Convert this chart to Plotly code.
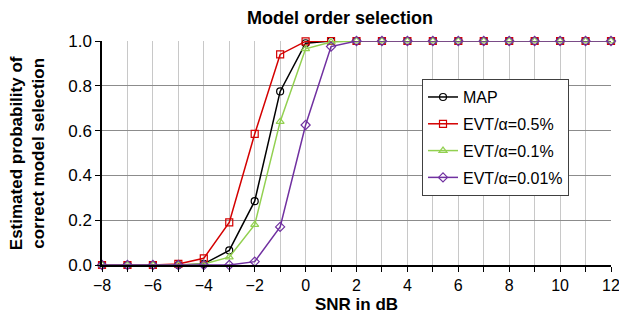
import plotly.graph_objects as go

snr = [-8, -7, -6, -5, -4, -3, -2, -1, 0, 1, 2, 3, 4, 5, 6, 7, 8, 9, 10, 11, 12]
p_map = [0, 0, 0, 0, 0.005, 0.065, 0.285, 0.775, 0.99, 1.0, 1, 1, 1, 1, 1, 1, 1, 1, 1, 1, 1]
p_evt05 = [0, 0, 0, 0.005, 0.03, 0.19, 0.585, 0.94, 0.998, 1.0, 1, 1, 1, 1, 1, 1, 1, 1, 1, 1, 1]
p_evt01 = [0, 0, 0, 0, 0.005, 0.035, 0.18, 0.64, 0.965, 0.995, 1, 1, 1, 1, 1, 1, 1, 1, 1, 1, 1]
p_evt001 = [0, 0, 0, 0, 0, 0, 0.015, 0.17, 0.625, 0.975, 1, 1, 1, 1, 1, 1, 1, 1, 1, 1, 1]

series = [
    ("MAP", p_map, "#000000", "circle-open"),
    ("EVT/α=0.5%", p_evt05, "#d40000", "square-open"),
    ("EVT/α=0.1%", p_evt01, "#92d050", "triangle-up-open"),
    ("EVT/α=0.01%", p_evt001, "#7030a0", "diamond-open"),
]

fig = go.Figure()
for i, (name, vals, color, sym) in enumerate(series):
    fig.add_trace(go.Scatter(
        x=snr, y=vals, name=name, mode="lines+markers", legendgroup=f"g{i}",
        line=dict(color=color, width=1.5),
        marker=dict(symbol=sym, size=7, color=color, line=dict(width=1.2, color=color)),
        cliponaxis=False,
    ))

FONT = "Liberation Sans, Arial, sans-serif"
fig.update_layout(
    width=619, height=315,
    margin=dict(l=102, r=8, t=41, b=50),
    paper_bgcolor="white", plot_bgcolor="white",
    font=dict(family=FONT, size=16, color="#000000"),
    title=dict(text="Model order selection", x=0.4676, xanchor="center", xref="paper",
               y=0.944, yanchor="middle",
               font=dict(family=FONT, size=18, weight="bold")),
    legend=dict(x=0.6287, y=0.83, xanchor="left", yanchor="top",
                bgcolor="white", bordercolor="#404040", borderwidth=1,
                font=dict(family=FONT, size=16), itemwidth=30,
                tracegroupgap=3),
    showlegend=True,
    annotations=[
        dict(text="SNR in dB", xref="paper", yref="paper", x=0.5, y=-0.176,
             xanchor="center", yanchor="middle", showarrow=False,
             font=dict(family=FONT, size=17, weight="bold")),
        dict(text="Estimated probability of<br>correct model selection",
             xref="paper", yref="paper", x=-0.147, y=0.5, textangle=-90,
             xanchor="center", yanchor="middle", showarrow=False,
             font=dict(family=FONT, size=17, weight="bold")),
    ],
)
fig.update_xaxes(
    range=[-8, 12], tickmode="linear", tick0=-8, dtick=2, automargin=False,
    ticklabeloverflow="allow",
    ticks="outside", ticklen=5, tickcolor="black",
    showgrid=True, gridcolor="#c8c8c8", gridwidth=1,
    minor=dict(dtick=1, tick0=-8, ticks="outside", ticklen=5, tickcolor="black",
               showgrid=True, gridcolor="#c8c8c8", gridwidth=1),
    showline=True, linecolor="black", linewidth=1.5,
    zeroline=False,
    tickfont=dict(size=16),
)
fig.update_yaxes(
    range=[0, 1], tickmode="linear", tick0=0, dtick=0.2, tickformat=".1f", automargin=False,
    ticks="outside", ticklen=5, tickcolor="black",
    showgrid=True, gridcolor="#8c8c8c", gridwidth=1,
    showline=True, linecolor="black", linewidth=1.5,
    zeroline=False,
    tickfont=dict(size=17),
)

fig.write_html("out.html", config={"displayModeBar": False},
               post_script="document.body.style.margin='0';document.body.style.overflow='hidden';")
